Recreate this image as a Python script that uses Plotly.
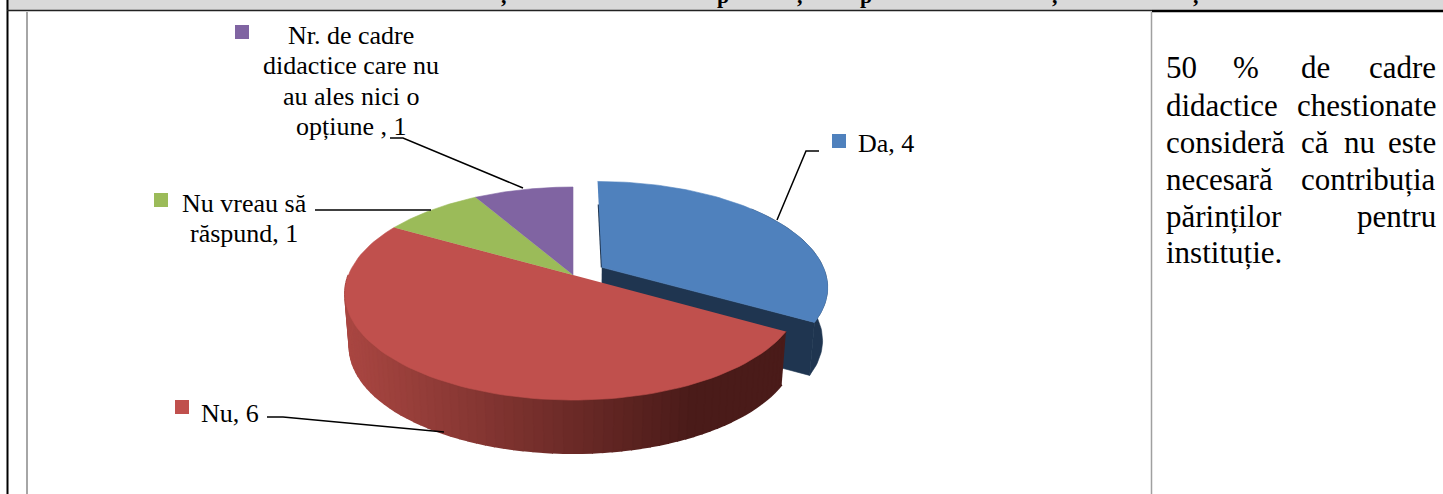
import numpy as np
import plotly.graph_objects as go

# ---- data ----
categories = ["Da", "Nu", "Nu vreau să răspund", "Nr. de cadre didactice care nu au ales nici o opțiune "]
values = [4, 6, 1, 1]
colors = ["#4F81BD", "#C0504D", "#9BBB59", "#8064A2"]
side_colors = ["#1F3550"]
explode = [0.15, 0, 0, 0]
header_marks = [",", "p", ",", "p", ",", ","]

W, H = 1443, 494
CX, CY, RX, RY, K = 573, 275, 224.5, 103.3, 0.174
DEPTH, SX = 53, 0.98
FONT = "Liberation Serif"


def proj(X, Y, lower=False):
    w = 1 - K * Y
    x, y = CX + RX * X / w, CY + RY * Y / w
    if lower:
        x, y = CX + SX * (x - CX), y + DEPTH
    return x, y


fig = go.Figure()


def poly(x, y, color, lw=0.6):
    fig.add_trace(go.Scatter(x=list(x), y=list(y), mode="lines", fill="toself", fillcolor=color,
                             line=dict(width=lw, color=color), hoverinfo="skip", showlegend=False))


# slice angles derived from the values (start at 12 o'clock, clockwise)
total = sum(values)
edges = np.concatenate([[0], np.cumsum(values)]) / total * 2 * np.pi - np.pi / 2


def rim(i, n=90):
    t = np.linspace(edges[i], edges[i + 1], n)
    mid = (edges[i] + edges[i + 1]) / 2
    return explode[i] * np.cos(mid) + np.cos(t), explode[i] * np.sin(mid) + np.sin(t), \
        explode[i] * np.cos(mid), explode[i] * np.sin(mid)


# exploded slice: radial wall and outer wall
X, Y, ax, ay = rim(0)
xt, yt = proj(X, Y)
xb, yb = proj(X, Y, True)
pa = proj(ax, ay)
pb = proj(ax, ay, True)
poly([pa[0], xt[-1], xb[-1], pb[0]], [pa[1], yt[-1], yb[-1], pb[1]], side_colors[0])
mask = np.cos(np.linspace(edges[0], edges[1], 90)) > 0.75
poly(list(xt[mask]) + list(xb[mask][::-1]), list(yt[mask]) + list(yb[mask][::-1]), side_colors[0])
# thin dark sliver along the left straight edge of the exploded slice
e = proj(ax + 0.7 * (X[0] - ax), ay + 0.7 * (Y[0] - ay))
fig.add_trace(go.Scatter(x=[pa[0], e[0]], y=[pa[1], e[1]], mode="lines",
                         line=dict(color=side_colors[0], width=2), hoverinfo="skip", showlegend=False))
poly(list(xt) + [pa[0]], list(yt) + [pa[1]], colors[0])

# biggest slice: shaded wall
A = np.linspace(edges[1], np.pi, 71)
c_left = np.array([0xAA, 0x47, 0x42])
c_right = np.array([0x4A, 0x1B, 0x19])
for a0, a1 in zip(A[:-1], A[1:]):
    t = np.array([a0, a1])
    xs, ys = proj(np.cos(t), np.sin(t))
    xl, yl = proj(np.cos(t), np.sin(t), True)
    f = np.clip((xs.mean() - (CX - 228)) / 350, 0, 1)
    c = c_left + (c_right - c_left) * f
    poly(list(xs) + list(xl[::-1]), list(ys) + list(yl[::-1]), "rgb(%d,%d,%d)" % tuple(c), 2)

for i in (1, 2, 3):
    X, Y, ax, ay = rim(i)
    xt, yt = proj(X, Y)
    pa = proj(ax, ay)
    poly(list(xt) + [pa[0]], list(yt) + [pa[1]], colors[i])

# legend keys
key_pos = [(839, 141), (182, 407), (161, 200), (242, 32)]
fig.add_trace(go.Scatter(x=[p[0] for p in key_pos], y=[p[1] for p in key_pos], mode="markers",
                         marker=dict(symbol="square", size=14, color=colors, line=dict(width=0)),
                         hoverinfo="skip", showlegend=False))

shapes = [
    dict(type="rect", x0=0, x1=W, y0=0, y1=10, fillcolor="#D9D9D9", line_width=0),
    dict(type="rect", x0=0, x1=6.5, y0=0, y1=H, fillcolor="white", line_width=0),
    dict(type="line", x0=7.5, x1=7.5, y0=0, y1=H, line=dict(color="black", width=2)),
    dict(type="line", x0=7, x1=1152, y0=10.5, y1=10.5, line=dict(color="#222222", width=1.5)),
    dict(type="line", x0=1152, x1=W, y0=11, y1=11, line=dict(color="black", width=2.5)),
    dict(type="line", x0=27, x1=27, y0=12, y1=H, line=dict(color="#A6A6A6", width=2)),
    dict(type="line", x0=1151.5, x1=1151.5, y0=12, y1=H, line=dict(color="#A0A0A0", width=1.5)),
]
for path in ["M390,138 L403,138 L523,188", "M315,210 L431,210", "M267,417 L283,417 L444,432",
             "M819,151 L806,151 L777,220"]:
    shapes.append(dict(type="path", path=path, line=dict(color="black", width=1.5)))

ann = []


def label(text, x, y, anchor="center", size=26):
    ann.append(dict(text=text, x=x, y=y, xref="x", yref="y", xanchor=anchor, yanchor="middle", showarrow=False,
                    font=dict(family=FONT, size=size, color="black")))


label("Nr. de cadre", 351, 35)
label("didactice care nu", 351, 65)
label("au ales nici o", 351, 96)
label("opțiune , 1", 351, 126)
label("Nu vreau să", 244, 203)
label("răspund, 1", 244, 233)
label("Nu, 6", 199, 413, "left")
label("Da, 4", 856, 143, "left")

BL, BR, BS = 1164, 1438, 31
for word, x, a, y in [("50", BL, "left", 67), ("%", 1246, "center", 67), ("de", 1315, "center", 67),
                      ("cadre", BR, "right", 67),
                      ("didactice", BL, "left", 105), ("chestionate", BR, "right", 105),
                      ("consideră", BL, "left", 142), ("că", 1315, "center", 142), ("nu", 1359, "center", 142),
                      ("este", BR, "right", 142),
                      ("necesară", BL, "left", 179), ("contribuția", BR, "right", 179),
                      ("părinților", BL, "left", 216), ("pentru", BR, "right", 216),
                      ("instituție.", BL, "left", 252)]:
    label(word, x, y, a, BS)

# bottoms of the header line, cut off by the top edge of the picture
for mark, x in zip(header_marks, [504, 723, 800, 866, 1055, 1196]):
    ann.append(dict(text="<b>%s</b>" % mark, x=x, y=1 + 19 / H, xref="x", yref="paper", xanchor="center",
                    yanchor="top", showarrow=False, font=dict(family=FONT, size=22, color="black")))

fig.update_layout(width=W, height=H, margin=dict(l=0, r=0, t=0, b=0), paper_bgcolor="white", plot_bgcolor="white",
                  xaxis=dict(range=[0, W], visible=False, fixedrange=True),
                  yaxis=dict(range=[H, 0], visible=False, fixedrange=True),
                  shapes=shapes, annotations=ann, showlegend=False)
fig.write_html("out.html", config=dict(displayModeBar=False),
               post_script="document.body.style.margin='0';")
